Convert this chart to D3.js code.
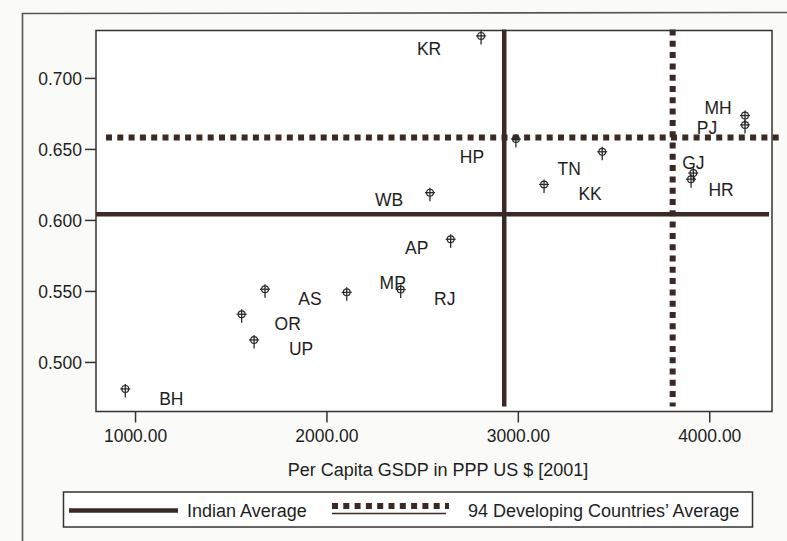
<!DOCTYPE html>
<html>
<head>
<meta charset="utf-8">
<script src="https://cdn.jsdelivr.net/npm/d3@7"></script>
<style>
  html, body { margin: 0; padding: 0; background: #fafaf8; }
  svg { display: block; }
  text { font-family: Arial, "Liberation Sans", Helvetica, sans-serif; fill: #1e1e1e; }
  .tall { transform-box: fill-box; transform-origin: center; transform: scaleY(1.1); }
</style>
</head>
<body>
<svg id="chart" width="787" height="541"></svg>
<script>
// Indian states: per capita GSDP (PPP US$, 2001) against HDI
const states = ["BH", "UP", "OR", "AS", "MP", "RJ", "AP", "WB", "KR", "HP", "TN", "KK", "GJ", "HR", "MH", "PJ"];
const gsdp   = [949, 1622, 1557, 1679, 2106, 2388, 2649, 2541, 2808, 2990, 3441, 3137, 3917, 3905, 4187, 4187];
const hdi    = [0.481, 0.5155, 0.5336, 0.5512, 0.549, 0.551, 0.5864, 0.6192, 0.7296, 0.657, 0.648, 0.625, 0.633, 0.6287, 0.6735, 0.6669];

// Label placement relative to each marker (px)
const labelDx = [46, 47, 46, 45, 46, 44, -34, -41, -52, -44, -33, 46, 0, 30, -27, -38];
const labelDy = [9, 8, 9, 9, -10, 9, 8, 7, 12, 17, 16, 9, -11, 10, -8, 2];

// Averages drawn as reference lines
const averageNames = ["Indian Average", "94 Developing Countries\u2019 Average"];
const averageGsdp  = [2929, 3809];
const averageHdi   = [0.604, 0.658];

const xTicks = [1000, 2000, 3000, 4000];
const yTicks = [0.500, 0.550, 0.600, 0.650, 0.700];
const xTitle = "Per Capita GSDP in PPP US $ [2001]";

const ink = "#3a2925";
const svg = d3.select("#chart");

const plot = { left: 96, right: 772, top: 30.5, bottom: 411.5 };

const x = d3.scaleLinear().domain([796, 4328]).range([plot.left, plot.right]);
const y = d3.scaleLinear().domain([0.4651, 0.7334]).range([plot.bottom, plot.top]);

// outer page frame (top and left edges)
svg.append("path")
  .attr("d", `M22.5,541 L22.5,13.5 L787,12.5`)
  .attr("fill", "none").attr("stroke", "#555").attr("stroke-width", 1.6);

// plot area
svg.append("rect")
  .attr("x", plot.left).attr("y", plot.top)
  .attr("width", plot.right - plot.left).attr("height", plot.bottom - plot.top)
  .attr("fill", "#fff");

// axes
const xAxis = svg.append("g")
  .attr("transform", `translate(0,${plot.bottom})`)
  .call(d3.axisBottom(x).tickValues(xTicks).tickFormat(d3.format(".2f")).tickSize(11).tickPadding(6).tickSizeOuter(0));
const yAxis = svg.append("g")
  .attr("transform", `translate(${plot.left},0)`)
  .call(d3.axisLeft(y).tickValues(yTicks).tickFormat(d3.format(".3f")).tickSize(11).tickPadding(3).tickSizeOuter(0));

[xAxis, yAxis].forEach(g => {
  g.select(".domain").remove();
  g.selectAll(".tick line").attr("stroke", "#333").attr("stroke-width", 1.5);
  g.selectAll(".tick text").attr("font-size", 17.5).attr("fill", "#1e1e1e").attr("class", "tall");
});

// reference lines: solid = Indian average, dotted = developing countries' average
const refStyles = [
  { width: 4.5, dash: null },
  { width: 6, dash: "6,5.3" }
];

averageNames.forEach((name, i) => {
  const st = refStyles[i];
  const h = svg.append("line")
    .attr("x1", i === 0 ? plot.left : plot.left + 10)
    .attr("x2", i === 0 ? plot.right - 3 : plot.right + 7)
    .attr("y1", y(averageHdi[i])).attr("y2", y(averageHdi[i]))
    .attr("stroke", ink).attr("stroke-width", st.width);
  const v = svg.append("line")
    .attr("x1", x(averageGsdp[i])).attr("x2", x(averageGsdp[i]))
    .attr("y1", plot.top - 1).attr("y2", plot.bottom - 5)
    .attr("stroke", ink).attr("stroke-width", st.width);
  if (st.dash) { h.attr("stroke-dasharray", st.dash); v.attr("stroke-dasharray", st.dash); }
});

// plot frame
svg.append("rect")
  .attr("x", plot.left).attr("y", plot.top)
  .attr("width", plot.right - plot.left).attr("height", plot.bottom - plot.top)
  .attr("fill", "none").attr("stroke", "#333").attr("stroke-width", 1.5);

// markers: circle with cross and a short tail below
const pts = svg.append("g").selectAll("g")
  .data(states.map((s, i) => ({ s, gx: gsdp[i], hy: hdi[i], dx: labelDx[i], dy: labelDy[i] })))
  .join("g")
  .attr("transform", d => `translate(${x(d.gx)},${y(d.hy)})`);

pts.append("circle").attr("r", 3.4).attr("fill", "none").attr("stroke", "#2a2a2a").attr("stroke-width", 1.2);
pts.append("line").attr("x1", 0).attr("x2", 0).attr("y1", -5).attr("y2", 8.5).attr("stroke", "#2a2a2a").attr("stroke-width", 1.3);
pts.append("line").attr("x1", -5).attr("x2", 5).attr("y1", 0).attr("y2", 0).attr("stroke", "#2a2a2a").attr("stroke-width", 1.3);

pts.append("text")
  .attr("class", "tall")
  .attr("x", d => d.dx).attr("y", d => d.dy)
  .attr("text-anchor", "middle").attr("dominant-baseline", "central")
  .attr("font-size", 17.5)
  .text(d => d.s);

// x-axis title
svg.append("text")
  .attr("x", 438).attr("y", 476)
  .attr("text-anchor", "middle").attr("font-size", 18)
  .text(xTitle);

// legend
const legend = svg.append("g");
legend.append("rect")
  .attr("x", 63.5).attr("y", 492).attr("width", 689).attr("height", 35)
  .attr("fill", "#fff").attr("stroke", "#333").attr("stroke-width", 1.5);

legend.append("line")
  .attr("x1", 69).attr("x2", 178).attr("y1", 510.5).attr("y2", 510.5)
  .attr("stroke", ink).attr("stroke-width", 4.5);
legend.append("text").attr("x", 187).attr("y", 516.5).attr("font-size", 18).text(averageNames[0]);

legend.append("line")
  .attr("x1", 332).attr("x2", 449).attr("y1", 506).attr("y2", 506)
  .attr("stroke", ink).attr("stroke-width", 6).attr("stroke-dasharray", "6,5.3");
legend.append("line")
  .attr("x1", 332).attr("x2", 446).attr("y1", 513.5).attr("y2", 513.5)
  .attr("stroke", ink).attr("stroke-width", 1.4);
legend.append("text").attr("x", 468).attr("y", 516.5).attr("font-size", 18).text(averageNames[1]);
</script>
</body>
</html>
